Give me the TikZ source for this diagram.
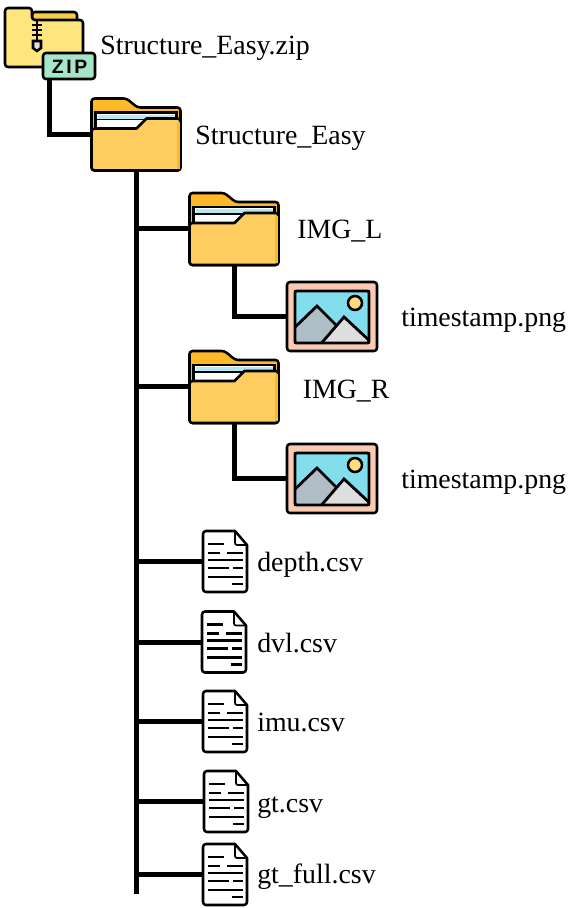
\documentclass[tikz,border=0pt]{standalone}
\usepackage{fontspec}
\setmainfont{Liberation Serif}
\newfontfamily\zipfont[LetterSpace=14]{Liberation Sans}
\definecolor{foldertab}{RGB}{254,185,40}
\definecolor{folderfront}{RGB}{255,204,96}
\definecolor{zipyellow}{RGB}{255,229,125}
\definecolor{zipgold}{RGB}{250,205,70}
\definecolor{zipgreen}{RGB}{165,229,200}
\definecolor{paperblue}{RGB}{180,232,245}
\definecolor{frameskin}{RGB}{250,203,178}
\definecolor{skyblue}{RGB}{130,221,236}
\definecolor{sungold}{RGB}{255,220,125}
\definecolor{peakgrey}{RGB}{175,190,198}
\definecolor{peaklight}{RGB}{222,222,222}
\usetikzlibrary{positioning,calc}
\tikzset{
  wire/.style={line width=3.75pt, black},
  lbl/.style={anchor=base west, inner sep=0pt, font=\fontsize{20.9}{24}\selectfont},
  outline/.style={draw=black, line width=1.9pt, line join=round, rounded corners=2.2pt},
  folderbox/.style={minimum width=68.25pt, minimum height=54.75pt, inner sep=0pt, outer sep=0pt},
  imagebox/.style={minimum width=69pt, minimum height=53.25pt, inner sep=0pt, outer sep=0pt},
  docbox/.style={minimum width=34.5pt, minimum height=47.25pt, inner sep=0pt, outer sep=0pt},
  zipbox/.style={minimum width=68.25pt, minimum height=54pt, inner sep=0pt, outer sep=0pt},
  pics/foldericon/.style={code={
    \draw[outline, fill=foldertab] (1,73) -- (1,1) -- (36,1) -- (47,10) -- (90,10) -- (90,73) -- cycle;
    \draw[line width=1.7pt, fill=white] (5,34) -- (5,15) -- (86,15) -- (86,34) -- cycle;
    \fill[paperblue] (7,17) rectangle (84,21);
    \draw[line width=1.2pt] (6,22) -- (85,22);
    \draw[outline, fill=folderfront] (1,73) -- (1,31) [sharp corners]-- (46,31) -- (56,21) [rounded corners=2.2pt]-- (90,21) -- (90,73) -- cycle;
    \fill[foldertab] (86,24) rectangle (89,71);
  }},
  pics/imageicon/.style={code={
    \draw[outline, fill=frameskin] (1,1) rectangle (91,70);
    \draw[line width=2pt, fill=skyblue] (9,10) rectangle (83,62);
    \begin{scope}
      \clip (9,10) rectangle (83,62);
      \draw[line width=2.1pt, fill=peakgrey] (6,49) -- (31,25) -- (58,52) -- (58,65) -- (6,65) -- cycle;
      \draw[line width=2.1pt, fill=peaklight] (33,65) -- (58,36) -- (86,62) -- (86,65) -- cycle;
    \end{scope}
    \draw[line width=2.1pt, rounded corners=1pt] (9,10) rectangle (83,62);
    \draw[line width=1.9pt, fill=sungold] (69,22) circle (7);
  }},
  pics/docicon/.style={code={
    \draw[outline, fill=white] (1,1) [sharp corners]-- (33,1) -- (45,15) [rounded corners=2.2pt]-- (45,62) -- (1,62) -- cycle;
    \draw[line width=1.3pt, line join=round, rounded corners=1.5pt] (33,1) -- (33,15) -- (45,15);
    \draw[line width=1.7pt] (6,14) -- (22,14) (6,23) -- (18,23) (25,23) -- (41,23)
      (6,30) -- (41,30) (6,38) -- (27,38) (31,38) -- (41,38) (6,47) -- (41,47) (30,54) -- (41,54);
  }},
  pics/zipicon/.style={code={
    \draw[outline, fill=zipgold] (28,5) -- (73,5) -- (73,20) -- (28,20) -- cycle;
    \draw[outline, fill=zipyellow] (1,60) -- (1,1) -- (28,1) -- (28,13) -- (79,13) -- (79,60) -- cycle;
    \draw[line width=1.9pt] (28,18) -- (38,18) (28,23) -- (38,23) (28,28) -- (38,28);
    \draw[line width=2pt] (33,14) -- (33,36);
    \draw[line width=1.9pt, fill=peaklight] (29,34) -- (37,34) -- (37,41) -- (33,44) -- (29,41) -- cycle;
    \draw[outline, fill=zipgreen] (39,46) rectangle (91,72);
    \node[font=\zipfont\bfseries\fontsize{14.5}{14.5}\selectfont, inner sep=0pt] (ziplbl) at (65.5,59.5) {ZIP};
  }},
}
\begin{document}
\begin{tikzpicture}[x=0.75pt, y=-0.75pt]
  \useasboundingbox (0,0) rectangle (570,908);

  % Emplacements des icones
  \node[zipbox] (zipfile) at (49.5,43) {};
  \node[folderbox] (easy) at (136,134) {};
  \node[folderbox] (imgl) at (234,228.5) {};
  \node[folderbox] (imgr) at (234,386.5) {};
  \node[imagebox] (pngl) at (332,316.5) {};
  \node[imagebox] (pngr) at (332,478.5) {};
  \node[docbox] (depth) at (225,561.5) {};
  \node[docbox] (dvl) at (224,642) {};
  \node[docbox] (imu) at (225,721.5) {};
  \node[docbox] (gt) at (226,801.5) {};
  \node[docbox] (gtfull) at (225,874.5) {};
  \coordinate (trunkend) at (136,894);

  % Tronc et branches
  \draw[wire] (zipfile.south) |- (easy.west);
  \draw[wire] (easy.south) -- (trunkend);
  \draw[wire] (imgl.west) -- (imgl.west -| easy.south);
  \draw[wire] (imgr.west) -- (imgr.west -| easy.south);
  \draw[wire] (depth.west) -- (depth.west -| easy.south);
  \draw[wire] (dvl.west) -- (dvl.west -| easy.south);
  \draw[wire] (imu.west) -- (imu.west -| easy.south);
  \draw[wire] (gt.west) -- (gt.west -| easy.south);
  \draw[wire] (gtfull.west) -- (gtfull.west -| easy.south);
  \draw[wire] (imgl.south) |- (pngl.west);
  \draw[wire] (imgr.south) |- (pngr.west);

  % Icones
  \pic at (zipfile.north west) {zipicon};
  \pic at (easy.north west) {foldericon};
  \pic at (imgl.north west) {foldericon};
  \pic at (imgr.north west) {foldericon};
  \pic at (pngl.north west) {imageicon};
  \pic at (pngr.north west) {imageicon};
  \pic at (depth.north west) {docicon};
  \pic at (dvl.north west) {docicon};
  \pic at (imu.north west) {docicon};
  \pic at (gt.north west) {docicon};
  \pic at (gtfull.north west) {docicon};

  % Noms des fichiers
  \node[lbl] (ziptxt) at (100,54) {Structure\_Easy.zip};
  \node[lbl] (easytxt) at (195,144) {Structure\_Easy};
  \node[lbl] (imgltxt) at (297,238) {IMG\_L};
  \node[lbl] (pngltxt) at (401,326) {timestamp.png};
  \node[lbl] (imgrtxt) at (302.5,398) {IMG\_R};
  \node[lbl] (pngrtxt) at (401,488) {timestamp.png};
  \node[lbl] (depthtxt) at (257,571) {depth.csv};
  \node[lbl] (dvltxt) at (257,652) {dvl.csv};
  \node[lbl] (imutxt) at (257,731) {imu.csv};
  \node[lbl] (gttxt) at (257,812) {gt.csv};
  \node[lbl] (gtfulltxt) at (257,883) {gt\_full.csv};
\end{tikzpicture}
\end{document}
